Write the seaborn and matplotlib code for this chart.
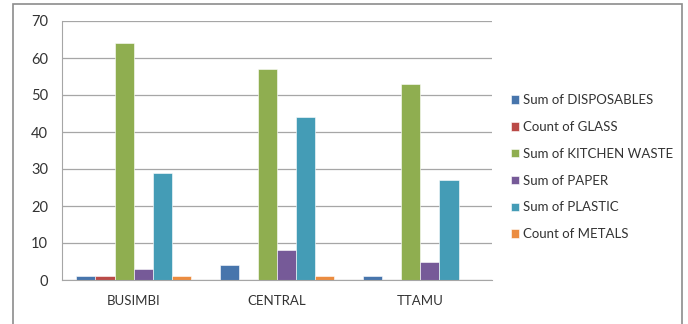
import matplotlib
matplotlib.use("Agg")
import matplotlib.pyplot as plt
import seaborn as sns
import pandas as pd
from matplotlib.patches import Rectangle

# data
sites = ["BUSIMBI", "CENTRAL", "TTAMU"]
series = ["Sum of DISPOSABLES", "Count of GLASS", "Sum of KITCHEN WASTE",
          "Sum of PAPER", "Sum of PLASTIC", "Count of METALS"]
disposables = [1, 4, 1]
glass = [1, 0, 0]
kitchen = [64, 57, 53]
paper = [3, 8, 5]
plastic = [29, 44, 27]
metals = [1, 1, 0]
colors = ["#4775AC", "#BA4A47", "#8FAE50", "#765A98", "#449CB6", "#EB8C40"]

values = [disposables, glass, kitchen, paper, plastic, metals]
rows = []
for name, vals in zip(series, values):
    for site, v in zip(sites, vals):
        rows.append({"Site": site, "Series": name, "Value": v})
df = pd.DataFrame(rows)

sns.set_style("white")
plt.rcParams['font.family'] = ['Lato', 'DejaVu Sans']

fig = plt.figure(figsize=(6.88, 3.24), dpi=100)
ax = fig.add_axes([62/688, 1 - 280/324, 430/688, 259/324])

sns.barplot(data=df, x="Site", y="Value", hue="Series", hue_order=series,
            palette=colors, saturation=1, width=0.8, edgecolor="white",
            linewidth=0.4, ax=ax, legend=True)

ax.set_ylim(0, 70)
ax.set_yticks(range(0, 71, 10))
ax.set_xlim(-0.5, 2.5)
ax.yaxis.grid(True, color="#A6A6A6", linewidth=0.9)
ax.set_axisbelow(True)
ax.set_xlabel("")
ax.set_ylabel("")
for s in ["top", "right"]:
    ax.spines[s].set_visible(False)
ax.spines["left"].set_color("#A6A6A6")
ax.spines["bottom"].set_color("#A6A6A6")
ax.tick_params(axis="y", labelsize=10.5, length=0, pad=10, colors="#333333")
ax.tick_params(axis="x", labelsize=9.5, length=0, pad=11, colors="#333333")

ax.legend(loc="upper left", bbox_to_anchor=(506/688, 1 - 89/324),
          bbox_transform=fig.transFigure, frameon=False, fontsize=9.5,
          handlelength=0.6, handleheight=0.6, handletextpad=0.3,
          labelspacing=1.12, borderaxespad=0, labelcolor="#333333")

# chart border
fig.add_artist(Rectangle((13/688, -0.1), (682 - 13)/688, 1.1 - 4/324,
                         transform=fig.transFigure, fill=False,
                         edgecolor="#8C8C8C", linewidth=1.2))

fig.savefig("out.png", dpi=100)
